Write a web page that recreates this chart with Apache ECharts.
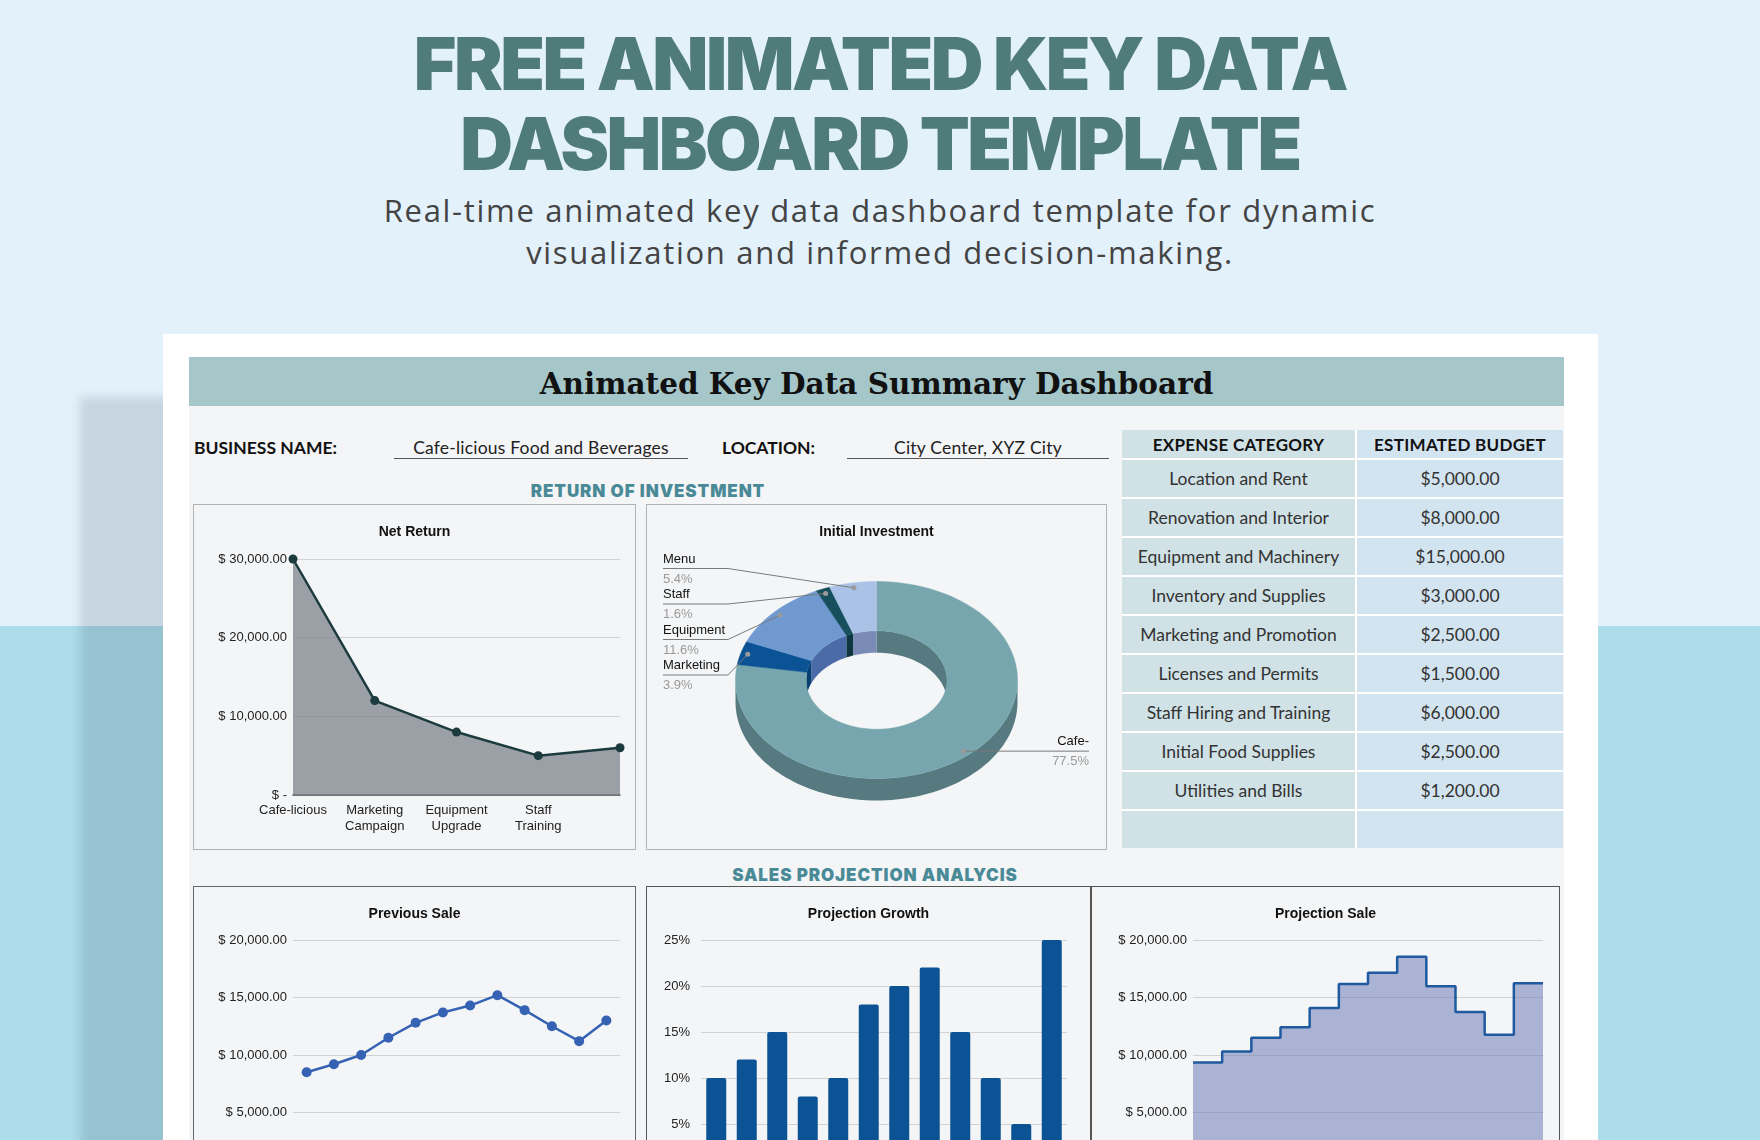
<!DOCTYPE html>
<html><head><meta charset="utf-8">
<script src="https://cdn.jsdelivr.net/npm/echarts@6/dist/echarts.min.js"></script>
<style>
html,body{margin:0;padding:0;}
body{width:1760px;height:1140px;overflow:hidden;position:relative;background:linear-gradient(#e3f1fa 0,#e3f1fa 626px,#addde9 626px,#addde9 100%);font-family:Lato,"Open Sans",sans-serif;}
.abs{position:absolute;}
#shadow{left:80px;top:397px;width:300px;height:900px;background:rgba(20,45,65,0.14);filter:blur(5px);}
#title{left:0;top:24px;width:1760px;text-align:center;font:900 73px/80px Inter;color:#4f7c7b;letter-spacing:-2.5px;}
#subtitle{left:0;top:189px;width:1760px;text-align:center;font:400 31px/42px "Open Sans";color:#444;letter-spacing:1.7px;}
#card{left:163px;top:334px;width:1435px;height:900px;background:#fff;}
#band{left:189px;top:357px;width:1375px;height:49px;background:#a5c7c9;font:bold 29.5px/53px "DejaVu Serif";text-align:center;color:#111;}
#dash{left:189px;top:406px;width:1375px;height:800px;background:#f4f5f7;}
.lbl{font:700 17.5px Lato;color:#111;top:437px;}
.val{font:400 17.5px Lato;color:#222;top:437px;text-align:center;border-bottom:1px solid #555;height:21px;letter-spacing:0.2px;}
.sec{font:900 17px Inter;color:#4a8a97;text-align:center;letter-spacing:0.9px;}
.box{background:#f4f5f7;box-sizing:border-box;}
#tbl{left:1122px;top:430px;width:441px;display:grid;grid-template-columns:233px 206px;grid-auto-rows:37px;grid-template-rows:28px;gap:2px;background:#fff;}
#tbl div{display:flex;align-items:center;justify-content:center;font:400 17.5px Lato;color:#333;}
#tbl div.h{font:700 17px Lato;color:#111;letter-spacing:0.3px;}
#tbl div.l{background:#d0e2e6;}
#tbl div.r{background:#d3e4f1;}
</style></head>
<body>
<div id="shadow" class="abs"></div>
<div id="title" class="abs">FREE ANIMATED KEY DATA<br>DASHBOARD TEMPLATE</div>
<div id="subtitle" class="abs">Real-time animated key data dashboard template for dynamic<br>visualization and informed decision-making.</div>
<div id="card" class="abs"></div>
<div id="band" class="abs">Animated Key Data Summary Dashboard</div>
<div id="dash" class="abs"></div>
<div class="abs lbl" style="left:194px;">BUSINESS NAME:</div>
<div class="abs val" style="left:394px;width:294px;">Cafe-licious Food and Beverages</div>
<div class="abs lbl" style="left:722px;">LOCATION:</div>
<div class="abs val" style="left:847px;width:262px;">City Center, XYZ City</div>
<div class="abs sec" style="left:448px;width:400px;top:481px;">RETURN OF INVESTMENT</div>
<div class="abs sec" style="left:675px;width:400px;top:865px;">SALES PROJECTION ANALYCIS</div>
<div id="tbl" class="abs"></div>

<div class="abs box" style="left:193px;top:504px;width:443px;height:346px;border:1px solid #b3b3b3;"><div id="c1" style="width:441px;height:344px;"></div></div>
<div class="abs box" style="left:646px;top:504px;width:461px;height:346px;border:1px solid #b3b3b3;"><div id="c2" style="width:459px;height:344px;"></div></div>
<div class="abs box" style="left:193px;top:886px;width:443px;height:330px;border:1px solid #666;"><div id="c3" style="width:441px;height:328px;"></div></div>
<div class="abs box" style="left:646px;top:886px;width:445px;height:330px;border:1px solid #555;"><div id="c4" style="width:443px;height:328px;"></div></div>
<div class="abs box" style="left:1091px;top:886px;width:469px;height:330px;border:1px solid #555;"><div id="c5" style="width:467px;height:328px;"></div></div>

<script>
// ---------- data ----------
const expenseCategories = ['Location and Rent','Renovation and Interior','Equipment and Machinery','Inventory and Supplies','Marketing and Promotion','Licenses and Permits','Staff Hiring and Training','Initial Food Supplies','Utilities and Bills'];
const expenseBudget = [5000, 8000, 15000, 3000, 2500, 1500, 6000, 2500, 1200];

const netCategories = ['Cafe-licious', 'Marketing\nCampaign', 'Equipment\nUpgrade', 'Staff\nTraining', ''];
const netReturn = [30000, 12000, 8000, 5000, 6000];

const pieNames = ['Cafe-', 'Marketing', 'Equipment', 'Staff', 'Menu'];
const pieValues = [77.5, 3.9, 11.6, 1.6, 5.4];

const months = ['Jan','Feb','Mar','Apr','May','Jun','Jul','Aug','Sep','Oct','Nov','Dec'];
const previousSale = [8500, 9200, 10000, 11500, 12800, 13700, 14300, 15200, 13900, 12500, 11200, 13000];
const projectionGrowth = [10, 12, 15, 8, 10, 18, 20, 22, 15, 10, 5, 25];
const projectionSale = [9350, 10304, 11500, 12420, 14080, 16166, 17160, 18544, 15985, 13750, 11760, 16250];

// ---------- styles ----------
const pieTop = ['#77a6ae', '#0b5394', '#7099d0', '#17505c', '#a9c2e6'];
const pieSide = ['#567a80', '#083f72', '#4a6aa8', '#0e3640', '#7a8cb5'];
const FONT = 'Liberation Sans';

// ---------- table ----------
const tbl = document.getElementById('tbl');
function cell(txt, cls){ const d=document.createElement('div'); d.className=cls; d.textContent=txt; tbl.appendChild(d); }
cell('EXPENSE CATEGORY','h l'); cell('ESTIMATED BUDGET','h r');
const money = v => '$' + v.toLocaleString('en-US',{minimumFractionDigits:2, maximumFractionDigits:2});
expenseCategories.forEach((c,i)=>{ cell(c,'l'); cell(money(expenseBudget[i]),'r'); });
cell('','l'); cell('','r');

const dollar = v => v === 0 ? '$ -' : '$ ' + v.toLocaleString('en-US',{minimumFractionDigits:2, maximumFractionDigits:2});
const titleOpt = t => ({text:t, left:'center', top:15, textStyle:{fontSize:14, fontWeight:'bold', color:'#111', fontFamily:FONT}});
const yAx = (min, max, iv, fmt, m) => ({type:'value', min:min, max:max, interval:iv,
  axisLine:{show:false}, axisTick:{show:false},
  axisLabel:{formatter:fmt, color:'#222', fontSize:13, margin:m, fontFamily:FONT},
  splitLine:{lineStyle:{color:'#d2d2d2', width:1}}});

// ---------- Net Return ----------
echarts.init(document.getElementById('c1')).setOption({
  animation:false,
  title:titleOpt('Net Return'),
  grid:{left:99, right:15, top:54, bottom:54},
  xAxis:{type:'category', data:netCategories, boundaryGap:false,
    axisLine:{lineStyle:{color:'#555', width:1.5}}, axisTick:{show:false},
    axisLabel:{color:'#222', fontSize:13, lineHeight:16, margin:7, interval:0, fontFamily:FONT}},
  yAxis:yAx(0, 30000, 10000, dollar, 6),
  series:[{type:'line', data:netReturn, symbol:'circle', symbolSize:9,
    itemStyle:{color:'#1b3b3e'}, lineStyle:{color:'#1b3b3e', width:2.5},
    areaStyle:{color:'rgb(120,126,134)', opacity:0.72}}]
});

// ---------- Initial Investment (3D donut) ----------
const pieTotal = pieValues.reduce((a,b)=>a+b, 0);
const pieStart = []; { let acc = 0; pieValues.forEach(v => { pieStart.push(acc / pieTotal * 360); acc += v; }); }
const pieMid = pieValues.map((v,i) => pieStart[i] + v / pieTotal * 180);
const leftIdx = pieMid.map((m,i)=>i).filter(i => pieMid[i] > 180).sort((a,b)=>pieMid[b]-pieMid[a]);
function ept(cx,cy,rx,ry,deg){ const r = deg*Math.PI/180; return [cx + rx*Math.sin(r), cy - ry*Math.cos(r)]; }
function earc(cx,cy,rx,ry,a0,a1){ const n = Math.max(6, Math.ceil(Math.abs(a1-a0)/2)); const p=[]; for(let j=0;j<=n;j++) p.push(ept(cx,cy,rx,ry,a0+(a1-a0)*j/n)); return p; }
function renderDonut(params, api){
  const i = params.dataIndex;
  const cx = 229.5, cy = 175, rx = 141, ry = 98.5, k = 0.5, d = 22;
  const a0 = pieStart[i], a1 = a0 + api.value(0) / pieTotal * 360;
  const ch = [];
  // inner (far) wall
  [[0,90],[270,360]].forEach(([lo,hi]) => {
    const s = Math.max(a0,lo), e = Math.min(a1,hi);
    if (e > s) ch.push({type:'polygon', z2:1, shape:{points: earc(cx,cy,rx*k,ry*k,s,e).concat(earc(cx,cy+d,rx*k,ry*k,e,s))}, style:{fill:pieSide[i]}});
  });
  // outer (near) wall
  { const s = Math.max(a0,90), e = Math.min(a1,270);
    if (e > s) ch.push({type:'polygon', z2:2, shape:{points: earc(cx,cy,rx,ry,s,e).concat(earc(cx,cy+d,rx,ry,e,s))}, style:{fill:pieSide[i]}}); }
  // top face
  ch.push({type:'polygon', z2:3, shape:{points: earc(cx,cy,rx,ry,a0,a1).concat(earc(cx,cy,rx*k,ry*k,a1,a0))}, style:{fill:pieTop[i], stroke:pieTop[i], lineWidth:0.5}});
  // label
  const mid = pieMid[i];
  const an = ept(cx,cy,rx*0.95,ry*0.95,mid);
  const pct = (api.value(0)/pieTotal*100).toFixed(1) + '%';
  const tf = '13px "' + FONT + '"';
  let lp, nameXY, pctXY, align;
  if (mid > 180) {
    const rank = leftIdx.indexOf(i);
    const ly = 54 + 35.5*rank;
    lp = [[16, ly+9.5],[81, ly+9.5], an];
    nameXY = [16, ly]; pctXY = [16, ly+20]; align = 'left';
  } else {
    lp = [[442, an[1]], an];
    nameXY = [442, an[1]-10]; pctXY = [442, an[1]+10]; align = 'right';
  }
  ch.push({type:'polyline', z2:4, shape:{points:lp}, style:{stroke:'#7a7a7a', lineWidth:1, fill:null}});
  ch.push({type:'circle', z2:5, shape:{cx:an[0], cy:an[1], r:2.5}, style:{fill:'#9a9a9a'}});
  ch.push({type:'text', z2:5, style:{text:pieNames[i], x:nameXY[0], y:nameXY[1], fill:'#111', font:tf, align:align, textAlign:align, verticalAlign:'middle', textVerticalAlign:'middle'}});
  ch.push({type:'text', z2:5, style:{text:pct, x:pctXY[0], y:pctXY[1], fill:'#9a9a9a', font:tf, align:align, textAlign:align, verticalAlign:'middle', textVerticalAlign:'middle'}});
  return {type:'group', children:ch};
}
echarts.init(document.getElementById('c2')).setOption({
  animation:false,
  title:titleOpt('Initial Investment'),
  series:[{type:'custom', coordinateSystem:'none', silent:true, data:pieValues.map(v=>[v]), renderItem:renderDonut}]
});

// ---------- Previous Sale ----------
echarts.init(document.getElementById('c3')).setOption({
  animation:false,
  title:titleOpt('Previous Sale'),
  grid:{left:99, right:15, top:53, bottom:45},
  xAxis:{type:'category', data:months, axisLine:{lineStyle:{color:'#555'}}, axisTick:{show:false}, axisLabel:{color:'#222', fontSize:13, fontFamily:FONT}},
  yAxis:yAx(0, 20000, 5000, dollar, 6),
  series:[{type:'line', data:previousSale, symbol:'circle', symbolSize:10,
    itemStyle:{color:'#3562b3'}, lineStyle:{color:'#3562b3', width:2.5}}]
});

// ---------- Projection Growth ----------
echarts.init(document.getElementById('c4')).setOption({
  animation:false,
  title:titleOpt('Projection Growth'),
  grid:{left:54, right:23, top:53, bottom:45},
  xAxis:{type:'category', data:months, axisLine:{lineStyle:{color:'#555'}}, axisTick:{show:false}, axisLabel:{color:'#222', fontSize:13, fontFamily:FONT}},
  yAxis:yAx(0, 25, 5, '{value}%', 11),
  series:[{type:'bar', data:projectionGrowth, barWidth:20, itemStyle:{color:'#0b5394', borderRadius:[2,2,0,0]}}]
});

// ---------- Projection Sale ----------
// step line drawn over a 0..12 value axis; a closing vertex repeats the last plateau so it spans the full period
const stepData = projectionSale.map((v,i)=>[i, v]).concat([[projectionSale.length, projectionSale[projectionSale.length-1]]]);
echarts.init(document.getElementById('c5')).setOption({
  animation:false,
  title:titleOpt('Projection Sale'),
  grid:{left:101, right:16, top:53, bottom:45},
  xAxis:{type:'value', min:0, max:projectionSale.length, splitLine:{show:false}, axisLine:{lineStyle:{color:'#555'}}, axisTick:{show:false}, axisLabel:{show:false}},
  yAxis:yAx(0, 20000, 5000, dollar, 6),
  series:[{type:'line', step:'end', data:stepData, symbol:'none',
    lineStyle:{color:'#1f5aa0', width:2.5}, areaStyle:{color:'rgb(110,123,182)', opacity:0.55}}]
});
</script>
</body></html>
